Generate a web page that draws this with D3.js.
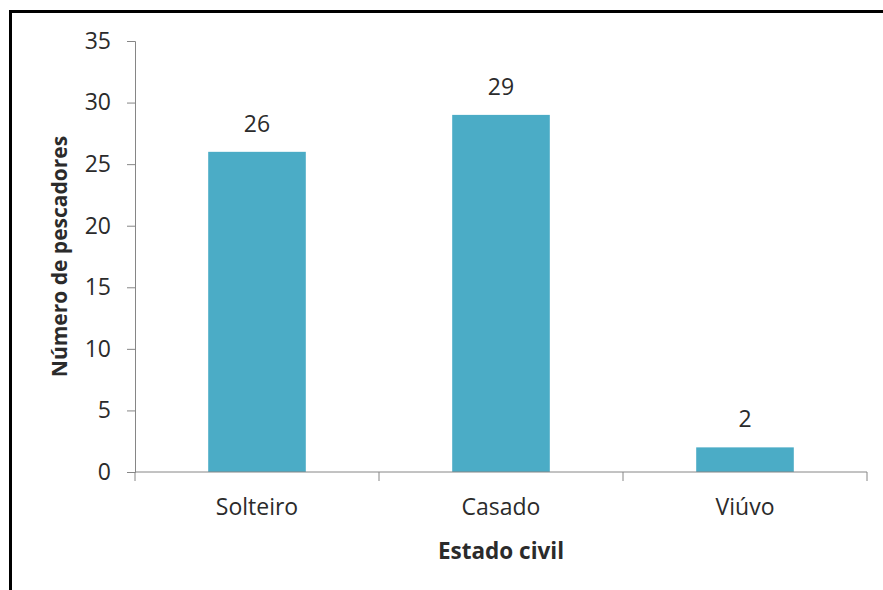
<!DOCTYPE html>
<html>
<head>
<meta charset="utf-8">
<script src="https://cdn.jsdelivr.net/npm/d3@7"></script>
<style>
  html, body { margin: 0; padding: 0; background: #fff; }
  svg { display: block; }
  text { font-family: "Open Sans", "Noto Sans", sans-serif; fill: #2b2b2b; }
</style>
</head>
<body>
<div id="chart"></div>
<script>
// Estado civil dos pescadores
const categories = ["Solteiro", "Casado", "Viúvo"];
const values = [26, 29, 2];
const yTicks = [0, 5, 10, 15, 20, 25, 30, 35];

const width = 883, height = 590;
const margin = { top: 41, right: 16, bottom: 118, left: 135 };

const svg = d3.select("#chart").append("svg")
  .attr("width", width)
  .attr("height", height);

// outer chart frame
svg.append("rect")
  .attr("x", 10.5).attr("y", 11.5)
  .attr("width", 880).attr("height", 600)
  .attr("fill", "none")
  .attr("stroke", "#000")
  .attr("stroke-width", 3);

const x = d3.scaleBand()
  .domain(categories)
  .range([margin.left, width - margin.right])
  .paddingInner(0.6)
  .paddingOuter(0.3);

const y = d3.scaleLinear()
  .domain([0, 35])
  .range([height - margin.bottom, margin.top]);

const axisColor = "#868686";

// y axis
const yAxis = svg.append("g")
  .attr("transform", `translate(${margin.left},0)`)
  .call(d3.axisLeft(y).tickValues(yTicks).tickSize(8).tickPadding(16));
yAxis.select(".domain").attr("stroke", axisColor);
yAxis.selectAll(".tick line").attr("stroke", axisColor);
yAxis.selectAll(".tick text")
  .style("font-size", "23px")
  .attr("fill", "#2b2b2b");

// bars
svg.selectAll("rect.bar")
  .data(values)
  .join("rect")
  .attr("class", "bar")
  .attr("x", (d, i) => x(categories[i]))
  .attr("y", d => y(d))
  .attr("width", x.bandwidth())
  .attr("height", d => y(0) - y(d))
  .attr("fill", "#4BACC6");

// value labels
svg.selectAll("text.value")
  .data(values)
  .join("text")
  .attr("class", "value")
  .attr("x", (d, i) => x(categories[i]) + x.bandwidth() / 2)
  .attr("y", d => y(d) - 20)
  .attr("text-anchor", "middle")
  .style("font-size", "23px")
  .text(d => d);

// x axis: ticks between categories
const x0 = margin.left, x1 = width - margin.right;
const step = (x1 - x0) / categories.length;
const xg = svg.append("g").attr("transform", `translate(0,${y(0)})`);
xg.append("line")
  .attr("x1", x0).attr("x2", x1)
  .attr("y1", 0).attr("y2", 0)
  .attr("stroke", axisColor);
xg.selectAll("line.tick")
  .data(d3.range(categories.length + 1))
  .join("line")
  .attr("class", "tick")
  .attr("x1", i => x0 + i * step).attr("x2", i => x0 + i * step)
  .attr("y1", 0).attr("y2", 9)
  .attr("stroke", axisColor);
xg.selectAll("text.cat")
  .data(categories)
  .join("text")
  .attr("class", "cat")
  .attr("x", d => x(d) + x.bandwidth() / 2)
  .attr("y", 43)
  .attr("text-anchor", "middle")
  .style("font-size", "23px")
  .text(d => d);

// axis titles
svg.append("text")
  .attr("x", (x0 + x1) / 2)
  .attr("y", 559)
  .attr("text-anchor", "middle")
  .style("font-size", "22.5px")
  .style("font-weight", "bold")
  .text("Estado civil");

svg.append("text")
  .attr("transform", `translate(67,${(y(0) + y(35)) / 2}) rotate(-90)`)
  .attr("text-anchor", "middle")
  .style("font-size", "21px")
  .style("font-weight", "bold")
  .text("Número de pescadores");
</script>
</body>
</html>
